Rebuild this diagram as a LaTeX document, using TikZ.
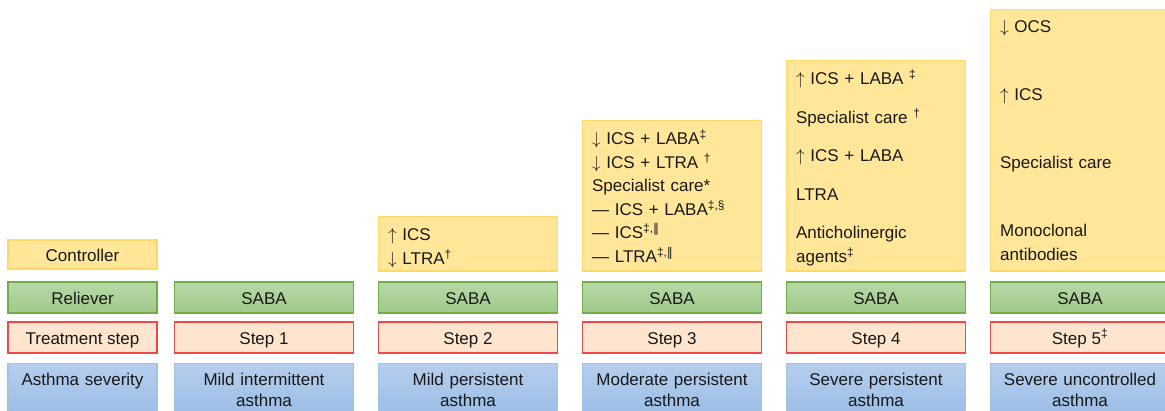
\documentclass[tikz,border=0pt]{standalone}
\usepackage{fontspec}
\setmainfont{Liberation Sans}
\newfontfamily\symfnt{DejaVu Sans}
\definecolor{ctrlfill}{HTML}{FFE699}
\definecolor{ctrlline}{HTML}{FFD966}
\definecolor{reltop}{HTML}{B7D9A6}
\definecolor{relbot}{HTML}{A0C98A}
\definecolor{relline}{HTML}{70AD47}
\definecolor{stepfill}{HTML}{FDE5CF}
\definecolor{stepline}{HTML}{F04848}
\definecolor{sevtop}{HTML}{B6CEEE}
\definecolor{sevbot}{HTML}{9ABCE5}
\definecolor{sevline}{HTML}{9DC3E6}
\newcommand{\dbar}{{\symfnt ‖}}
\newcommand{\up}{$\uparrow$}
\newcommand{\down}{$\downarrow$}

\begin{document}
\begin{tikzpicture}[x=1pt, y=-1pt,
  box/.style={draw, line width=1.1pt, minimum height=31pt, inner sep=0pt, text=black!90,
    text height=17pt, text depth=4pt, font=\fontsize{17}{21}\selectfont},
  ctrl/.style={box, draw=ctrlline, fill=ctrlfill, minimum width=179pt},
  reliever/.style={box, draw=relline, top color=reltop, bottom color=relbot, minimum width=179pt},
  stepbox/.style={box, draw=stepline, fill=stepfill, minimum width=179pt},
  severity/.style={box, draw=sevline, top color=sevtop, bottom color=sevbot, anchor=north,
    text width=179pt, align=center, text height=22pt, text depth=32pt},
  ctext/.style={anchor=base west, inner sep=0pt, text width=165pt, align=left, text=black!90,
    font=\fontsize{17}{23.5}\selectfont}]
  \useasboundingbox (0,0) rectangle (1165,410);

  % row labels
  \node[ctrl, minimum width=149pt, minimum height=29pt] (ctrl0) at (82.5,254.5) {Controller};
  \node[reliever, minimum width=149pt] (rel0) at (82.5,297.5) {Reliever};
  \node[stepbox, minimum width=149pt] (step0) at (82.5,337.5) {Treatment step};
  \node[severity, text width=149pt] (sev0) at (82.5,363) {Asthma severity};

  % step 1
  \node[reliever] (rel1) at (264,297.5) {SABA};
  \node[stepbox] (step1) at (264,337.5) {Step 1};
  \node[severity] (sev1) at (264,363) {Mild intermittent\\asthma};

  % step 2
  \node[ctrl, anchor=south, minimum height=54.5pt] (ctrl2) at (468,271.5) {};
  \node[ctext] (txt2) at ([xshift=10pt, yshift=-25pt]ctrl2.north west)
    {\up\ ICS\\\down\ LTRA\textsuperscript{†}};
  \node[reliever] (rel2) at (468,297.5) {SABA};
  \node[stepbox] (step2) at (468,337.5) {Step 2};
  \node[severity] (sev2) at (468,363) {Mild persistent\\asthma};

  % step 3
  \node[ctrl, anchor=south, minimum height=150.5pt] (ctrl3) at (672,271.5) {};
  \node[ctext] (txt3) at ([xshift=10pt, yshift=-25pt]ctrl3.north west)
    {\down\ ICS + LABA\textsuperscript{‡}\\
     \down\ ICS + LTRA \textsuperscript{†}\\
     Specialist care*\\
     — ICS + LABA\textsuperscript{‡,§}\\
     — ICS\textsuperscript{‡,\dbar}\\
     — LTRA\textsuperscript{‡,\dbar}};
  \node[reliever] (rel3) at (672,297.5) {SABA};
  \node[stepbox] (step3) at (672,337.5) {Step 3};
  \node[severity] (sev3) at (672,363) {Moderate persistent\\asthma};

  % step 4
  \node[ctrl, anchor=south, minimum height=210.5pt] (ctrl4) at (876,271.5) {};
  \node[ctext] (txt4) at ([xshift=10pt, yshift=-25pt]ctrl4.north west)
    {\up\ ICS + LABA \textsuperscript{‡}\\[15pt]
     Specialist care \textsuperscript{†}\\[15pt]
     \up\ ICS + LABA\\[15pt]
     LTRA\\[15pt]
     Anticholinergic\\
     agents\textsuperscript{‡}};
  \node[reliever] (rel4) at (876,297.5) {SABA};
  \node[stepbox] (step4) at (876,337.5) {Step 4};
  \node[severity] (sev4) at (876,363) {Severe persistent\\asthma};

  % step 5
  \node[ctrl, anchor=south, minimum height=261.5pt] (ctrl5) at (1080,271.5) {};
  \node[ctext] (txt5) at ([xshift=10pt, yshift=-24pt]ctrl5.north west)
    {\down\ OCS\\[44.5pt]
     \up\ ICS\\[44.5pt]
     Specialist care\\[44.5pt]
     Monoclonal\\
     antibodies};
  \node[reliever] (rel5) at (1080,297.5) {SABA};
  \node[stepbox] (step5) at (1080,337.5) {Step 5\textsuperscript{‡}};
  \node[severity] (sev5) at (1080,363) {Severe uncontrolled\\asthma};
\end{tikzpicture}
\end{document}
